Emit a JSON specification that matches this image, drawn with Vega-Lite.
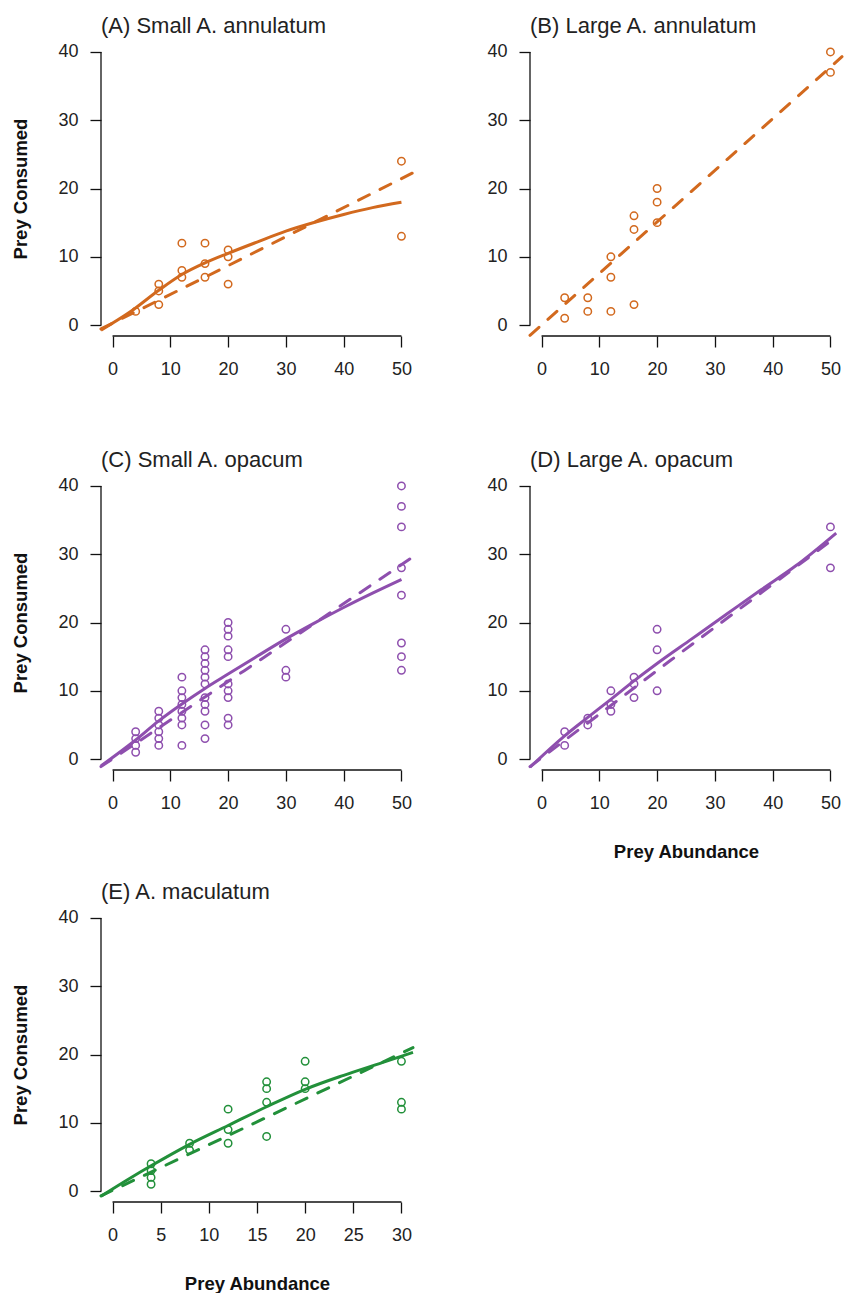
{
  "$schema": "https://vega.github.io/schema/vega-lite/v6.json",
  "background": "white",
  "padding": {"left": 11, "top": 15, "right": 0, "bottom": 0},
  "datasets": {
    "A": [
      {"kind": "obs", "abundance": 4, "consumed": 2},
      {"kind": "obs", "abundance": 8, "consumed": 6},
      {"kind": "obs", "abundance": 8, "consumed": 5},
      {"kind": "obs", "abundance": 8, "consumed": 3},
      {"kind": "obs", "abundance": 12, "consumed": 12},
      {"kind": "obs", "abundance": 12, "consumed": 8},
      {"kind": "obs", "abundance": 12, "consumed": 7},
      {"kind": "obs", "abundance": 16, "consumed": 12},
      {"kind": "obs", "abundance": 16, "consumed": 9},
      {"kind": "obs", "abundance": 16, "consumed": 7},
      {"kind": "obs", "abundance": 20, "consumed": 11},
      {"kind": "obs", "abundance": 20, "consumed": 10},
      {"kind": "obs", "abundance": 20, "consumed": 6},
      {"kind": "obs", "abundance": 50, "consumed": 24},
      {"kind": "obs", "abundance": 50, "consumed": 13},
      {"kind": "solid", "abundance": -2, "consumed": -0.75},
      {"kind": "solid", "abundance": 3, "consumed": 1.9},
      {"kind": "solid", "abundance": 8, "consumed": 5.1},
      {"kind": "solid", "abundance": 12, "consumed": 7.4},
      {"kind": "solid", "abundance": 16, "consumed": 9.1},
      {"kind": "solid", "abundance": 20, "consumed": 10.5},
      {"kind": "solid", "abundance": 25, "consumed": 12.15},
      {"kind": "solid", "abundance": 30, "consumed": 13.75},
      {"kind": "solid", "abundance": 35, "consumed": 15.05},
      {"kind": "solid", "abundance": 40, "consumed": 16.2},
      {"kind": "solid", "abundance": 45, "consumed": 17.2},
      {"kind": "solid", "abundance": 50, "consumed": 18.0},
      {"kind": "dashed", "abundance": -2, "consumed": -0.57},
      {"kind": "dashed", "abundance": 20, "consumed": 8.7},
      {"kind": "dashed", "abundance": 52, "consumed": 22.3}
    ],
    "B": [
      {"kind": "obs", "abundance": 4, "consumed": 4},
      {"kind": "obs", "abundance": 4, "consumed": 1},
      {"kind": "obs", "abundance": 8, "consumed": 4},
      {"kind": "obs", "abundance": 8, "consumed": 2},
      {"kind": "obs", "abundance": 12, "consumed": 10},
      {"kind": "obs", "abundance": 12, "consumed": 7},
      {"kind": "obs", "abundance": 12, "consumed": 2},
      {"kind": "obs", "abundance": 16, "consumed": 16},
      {"kind": "obs", "abundance": 16, "consumed": 14},
      {"kind": "obs", "abundance": 16, "consumed": 3},
      {"kind": "obs", "abundance": 20, "consumed": 20},
      {"kind": "obs", "abundance": 20, "consumed": 18},
      {"kind": "obs", "abundance": 20, "consumed": 15},
      {"kind": "obs", "abundance": 50, "consumed": 40},
      {"kind": "obs", "abundance": 50, "consumed": 37},
      {"kind": "dashed", "abundance": -2, "consumed": -1.5},
      {"kind": "dashed", "abundance": 20, "consumed": 15.1},
      {"kind": "dashed", "abundance": 52, "consumed": 39.3}
    ],
    "C": [
      {"kind": "obs", "abundance": 4, "consumed": 4},
      {"kind": "obs", "abundance": 4, "consumed": 3},
      {"kind": "obs", "abundance": 4, "consumed": 2},
      {"kind": "obs", "abundance": 4, "consumed": 1},
      {"kind": "obs", "abundance": 8, "consumed": 7},
      {"kind": "obs", "abundance": 8, "consumed": 6},
      {"kind": "obs", "abundance": 8, "consumed": 5},
      {"kind": "obs", "abundance": 8, "consumed": 4},
      {"kind": "obs", "abundance": 8, "consumed": 3},
      {"kind": "obs", "abundance": 8, "consumed": 2},
      {"kind": "obs", "abundance": 12, "consumed": 12},
      {"kind": "obs", "abundance": 12, "consumed": 10},
      {"kind": "obs", "abundance": 12, "consumed": 9},
      {"kind": "obs", "abundance": 12, "consumed": 8},
      {"kind": "obs", "abundance": 12, "consumed": 7},
      {"kind": "obs", "abundance": 12, "consumed": 6},
      {"kind": "obs", "abundance": 12, "consumed": 5},
      {"kind": "obs", "abundance": 12, "consumed": 2},
      {"kind": "obs", "abundance": 16, "consumed": 16},
      {"kind": "obs", "abundance": 16, "consumed": 15},
      {"kind": "obs", "abundance": 16, "consumed": 14},
      {"kind": "obs", "abundance": 16, "consumed": 13},
      {"kind": "obs", "abundance": 16, "consumed": 12},
      {"kind": "obs", "abundance": 16, "consumed": 11},
      {"kind": "obs", "abundance": 16, "consumed": 9},
      {"kind": "obs", "abundance": 16, "consumed": 8},
      {"kind": "obs", "abundance": 16, "consumed": 7},
      {"kind": "obs", "abundance": 16, "consumed": 5},
      {"kind": "obs", "abundance": 16, "consumed": 3},
      {"kind": "obs", "abundance": 20, "consumed": 20},
      {"kind": "obs", "abundance": 20, "consumed": 19},
      {"kind": "obs", "abundance": 20, "consumed": 18},
      {"kind": "obs", "abundance": 20, "consumed": 16},
      {"kind": "obs", "abundance": 20, "consumed": 15},
      {"kind": "obs", "abundance": 20, "consumed": 11},
      {"kind": "obs", "abundance": 20, "consumed": 10},
      {"kind": "obs", "abundance": 20, "consumed": 9},
      {"kind": "obs", "abundance": 20, "consumed": 6},
      {"kind": "obs", "abundance": 20, "consumed": 5},
      {"kind": "obs", "abundance": 30, "consumed": 19},
      {"kind": "obs", "abundance": 30, "consumed": 13},
      {"kind": "obs", "abundance": 30, "consumed": 12},
      {"kind": "obs", "abundance": 50, "consumed": 40},
      {"kind": "obs", "abundance": 50, "consumed": 37},
      {"kind": "obs", "abundance": 50, "consumed": 34},
      {"kind": "obs", "abundance": 50, "consumed": 28},
      {"kind": "obs", "abundance": 50, "consumed": 24},
      {"kind": "obs", "abundance": 50, "consumed": 17},
      {"kind": "obs", "abundance": 50, "consumed": 15},
      {"kind": "obs", "abundance": 50, "consumed": 13},
      {"kind": "solid", "abundance": -2, "consumed": -1.0},
      {"kind": "solid", "abundance": 4, "consumed": 2.8},
      {"kind": "solid", "abundance": 8, "consumed": 5.6},
      {"kind": "solid", "abundance": 12, "consumed": 8.07},
      {"kind": "solid", "abundance": 16, "consumed": 10.35},
      {"kind": "solid", "abundance": 20, "consumed": 12.45},
      {"kind": "solid", "abundance": 25, "consumed": 15.05},
      {"kind": "solid", "abundance": 30, "consumed": 17.6},
      {"kind": "solid", "abundance": 35, "consumed": 19.95},
      {"kind": "solid", "abundance": 40, "consumed": 22.2},
      {"kind": "solid", "abundance": 45, "consumed": 24.3},
      {"kind": "solid", "abundance": 50, "consumed": 26.3},
      {"kind": "dashed", "abundance": -2, "consumed": -1.1},
      {"kind": "dashed", "abundance": 22.8, "consumed": 12.95},
      {"kind": "dashed", "abundance": 52, "consumed": 29.6}
    ],
    "D": [
      {"kind": "obs", "abundance": 4, "consumed": 4},
      {"kind": "obs", "abundance": 4, "consumed": 2},
      {"kind": "obs", "abundance": 8, "consumed": 6},
      {"kind": "obs", "abundance": 8, "consumed": 5},
      {"kind": "obs", "abundance": 12, "consumed": 10},
      {"kind": "obs", "abundance": 12, "consumed": 8},
      {"kind": "obs", "abundance": 12, "consumed": 7},
      {"kind": "obs", "abundance": 16, "consumed": 12},
      {"kind": "obs", "abundance": 16, "consumed": 11},
      {"kind": "obs", "abundance": 16, "consumed": 9},
      {"kind": "obs", "abundance": 20, "consumed": 19},
      {"kind": "obs", "abundance": 20, "consumed": 16},
      {"kind": "obs", "abundance": 20, "consumed": 10},
      {"kind": "obs", "abundance": 50, "consumed": 34},
      {"kind": "obs", "abundance": 50, "consumed": 28},
      {"kind": "solid", "abundance": -2, "consumed": -1.2},
      {"kind": "solid", "abundance": 4, "consumed": 3.4},
      {"kind": "solid", "abundance": 8, "consumed": 6.1},
      {"kind": "solid", "abundance": 12, "consumed": 8.75},
      {"kind": "solid", "abundance": 16, "consumed": 11.45},
      {"kind": "solid", "abundance": 20, "consumed": 14.0},
      {"kind": "solid", "abundance": 26, "consumed": 17.6},
      {"kind": "solid", "abundance": 32, "consumed": 21.2},
      {"kind": "solid", "abundance": 38, "consumed": 24.8},
      {"kind": "solid", "abundance": 44, "consumed": 28.3},
      {"kind": "solid", "abundance": 51, "consumed": 33.1},
      {"kind": "dashed", "abundance": -2, "consumed": -1.1},
      {"kind": "dashed", "abundance": 22.4, "consumed": 14.5},
      {"kind": "dashed", "abundance": 50, "consumed": 31.9}
    ],
    "E": [
      {"kind": "obs", "abundance": 4, "consumed": 4},
      {"kind": "obs", "abundance": 4, "consumed": 3},
      {"kind": "obs", "abundance": 4, "consumed": 2},
      {"kind": "obs", "abundance": 4, "consumed": 1},
      {"kind": "obs", "abundance": 8, "consumed": 7},
      {"kind": "obs", "abundance": 8, "consumed": 6},
      {"kind": "obs", "abundance": 12, "consumed": 12},
      {"kind": "obs", "abundance": 12, "consumed": 9},
      {"kind": "obs", "abundance": 12, "consumed": 7},
      {"kind": "obs", "abundance": 16, "consumed": 16},
      {"kind": "obs", "abundance": 16, "consumed": 15},
      {"kind": "obs", "abundance": 16, "consumed": 13},
      {"kind": "obs", "abundance": 16, "consumed": 8},
      {"kind": "obs", "abundance": 20, "consumed": 19},
      {"kind": "obs", "abundance": 20, "consumed": 16},
      {"kind": "obs", "abundance": 20, "consumed": 15},
      {"kind": "obs", "abundance": 30, "consumed": 19},
      {"kind": "obs", "abundance": 30, "consumed": 13},
      {"kind": "obs", "abundance": 30, "consumed": 12},
      {"kind": "solid", "abundance": -1.2, "consumed": -0.75},
      {"kind": "solid", "abundance": 1.6, "consumed": 1.7},
      {"kind": "solid", "abundance": 4, "consumed": 3.7},
      {"kind": "solid", "abundance": 8, "consumed": 6.85},
      {"kind": "solid", "abundance": 12, "consumed": 9.6},
      {"kind": "solid", "abundance": 16, "consumed": 12.35},
      {"kind": "solid", "abundance": 20, "consumed": 14.9},
      {"kind": "solid", "abundance": 24, "consumed": 16.95},
      {"kind": "solid", "abundance": 28, "consumed": 18.8},
      {"kind": "solid", "abundance": 31.2, "consumed": 20.3},
      {"kind": "dashed", "abundance": -1.2, "consumed": -0.7},
      {"kind": "dashed", "abundance": 15.1, "consumed": 10.2},
      {"kind": "dashed", "abundance": 31.2, "consumed": 21.0}
    ]
  },
  "vconcat": [
    {
      "vconcat": [
        {
          "hconcat": [
            {
              "width": 312, "height": 295,
              "title": {"text": "(A) Small A. annulatum"},
              "layer": [
                {"data": {"name": "A"}, "transform": [{"filter": "datum.kind === 'obs'"}], "mark": {"type": "point", "shape": "circle", "filled": false, "size": 55, "strokeWidth": 1.5, "color": "#D2691E", "opacity": 1},
                 "encoding": {
                   "x": {"field": "abundance", "type": "quantitative", "scale": {"domain": [-2, 52], "nice": false, "zero": false}, "axis": {"values": [0, 10, 20, 30, 40, 50], "title": null}},
                   "y": {"field": "consumed", "type": "quantitative", "scale": {"domain": [-1.6, 41.6], "nice": false, "zero": false}, "axis": {"values": [0, 10, 20, 30, 40], "title": "Prey Consumed"}}}},
                {"data": {"name": "A"}, "transform": [{"filter": "datum.kind === 'solid'"}], "mark": {"type": "line", "interpolate": "monotone", "strokeWidth": 3, "color": "#D2691E"},
                 "encoding": {
                   "x": {"field": "abundance", "type": "quantitative", "scale": {"domain": [-2, 52], "nice": false, "zero": false}, "axis": {"values": [0, 10, 20, 30, 40, 50], "title": null}},
                   "y": {"field": "consumed", "type": "quantitative", "scale": {"domain": [-1.6, 41.6], "nice": false, "zero": false}, "axis": {"values": [0, 10, 20, 30, 40], "title": "Prey Consumed"}}}},
                {"data": {"name": "A"}, "transform": [{"filter": "datum.kind === 'dashed'"}], "mark": {"type": "line", "strokeWidth": 3, "strokeDash": [12, 12], "strokeCap": "round", "color": "#D2691E"},
                 "encoding": {
                   "x": {"field": "abundance", "type": "quantitative", "scale": {"domain": [-2, 52], "nice": false, "zero": false}, "axis": {"values": [0, 10, 20, 30, 40, 50], "title": null}},
                   "y": {"field": "consumed", "type": "quantitative", "scale": {"domain": [-1.6, 41.6], "nice": false, "zero": false}, "axis": {"values": [0, 10, 20, 30, 40], "title": "Prey Consumed"}}}},
                {"data": {"values": [{"axis": "x"}]}, "mark": {"type": "rule", "color": "#111", "strokeWidth": 1.3},
                 "encoding": {
                   "x": {"datum": 0, "type": "quantitative", "scale": {"domain": [-2, 52], "nice": false, "zero": false}, "axis": {"values": [0, 10, 20, 30, 40, 50], "title": null}},
                   "x2": {"datum": 50},
                   "y": {"datum": -1.6, "type": "quantitative", "scale": {"domain": [-1.6, 41.6], "nice": false, "zero": false}, "axis": {"values": [0, 10, 20, 30, 40], "title": "Prey Consumed"}}}},
                {"data": {"values": [{"axis": "y"}]}, "mark": {"type": "rule", "color": "#111", "strokeWidth": 1.3},
                 "encoding": {
                   "y": {"datum": 0, "type": "quantitative", "scale": {"domain": [-1.6, 41.6], "nice": false, "zero": false}, "axis": {"values": [0, 10, 20, 30, 40], "title": "Prey Consumed"}},
                   "y2": {"datum": 40},
                   "x": {"datum": -2, "type": "quantitative", "scale": {"domain": [-2, 52], "nice": false, "zero": false}, "axis": {"values": [0, 10, 20, 30, 40, 50], "title": null}}}}
              ]
            },
            {
              "width": 312, "height": 295,
              "title": {"text": "(B) Large A. annulatum"},
              "layer": [
                {"data": {"name": "B"}, "transform": [{"filter": "datum.kind === 'obs'"}], "mark": {"type": "point", "shape": "circle", "filled": false, "size": 55, "strokeWidth": 1.5, "color": "#D2691E", "opacity": 1},
                 "encoding": {
                   "x": {"field": "abundance", "type": "quantitative", "scale": {"domain": [-2, 52], "nice": false, "zero": false}, "axis": {"values": [0, 10, 20, 30, 40, 50], "title": null}},
                   "y": {"field": "consumed", "type": "quantitative", "scale": {"domain": [-1.6, 41.6], "nice": false, "zero": false}, "axis": {"values": [0, 10, 20, 30, 40], "title": null}}}},
                {"data": {"name": "B"}, "transform": [{"filter": "datum.kind === 'dashed'"}], "mark": {"type": "line", "strokeWidth": 3, "strokeDash": [12, 12], "strokeCap": "round", "color": "#D2691E"},
                 "encoding": {
                   "x": {"field": "abundance", "type": "quantitative", "scale": {"domain": [-2, 52], "nice": false, "zero": false}, "axis": {"values": [0, 10, 20, 30, 40, 50], "title": null}},
                   "y": {"field": "consumed", "type": "quantitative", "scale": {"domain": [-1.6, 41.6], "nice": false, "zero": false}, "axis": {"values": [0, 10, 20, 30, 40], "title": null}}}},
                {"data": {"values": [{"axis": "x"}]}, "mark": {"type": "rule", "color": "#111", "strokeWidth": 1.3},
                 "encoding": {
                   "x": {"datum": 0, "type": "quantitative", "scale": {"domain": [-2, 52], "nice": false, "zero": false}, "axis": {"values": [0, 10, 20, 30, 40, 50], "title": null}},
                   "x2": {"datum": 50},
                   "y": {"datum": -1.6, "type": "quantitative", "scale": {"domain": [-1.6, 41.6], "nice": false, "zero": false}, "axis": {"values": [0, 10, 20, 30, 40], "title": null}}}},
                {"data": {"values": [{"axis": "y"}]}, "mark": {"type": "rule", "color": "#111", "strokeWidth": 1.3},
                 "encoding": {
                   "y": {"datum": 0, "type": "quantitative", "scale": {"domain": [-1.6, 41.6], "nice": false, "zero": false}, "axis": {"values": [0, 10, 20, 30, 40], "title": null}},
                   "y2": {"datum": 40},
                   "x": {"datum": -2, "type": "quantitative", "scale": {"domain": [-2, 52], "nice": false, "zero": false}, "axis": {"values": [0, 10, 20, 30, 40, 50], "title": null}}}}
              ]
            }
          ],
          "spacing": 67
        },
        {
          "hconcat": [
            {
              "width": 312, "height": 295,
              "title": {"text": "(C) Small A. opacum"},
              "layer": [
                {"data": {"name": "C"}, "transform": [{"filter": "datum.kind === 'obs'"}], "mark": {"type": "point", "shape": "circle", "filled": false, "size": 55, "strokeWidth": 1.5, "color": "#8E4FAE", "opacity": 1},
                 "encoding": {
                   "x": {"field": "abundance", "type": "quantitative", "scale": {"domain": [-2, 52], "nice": false, "zero": false}, "axis": {"values": [0, 10, 20, 30, 40, 50], "title": null}},
                   "y": {"field": "consumed", "type": "quantitative", "scale": {"domain": [-1.6, 41.6], "nice": false, "zero": false}, "axis": {"values": [0, 10, 20, 30, 40], "title": "Prey Consumed"}}}},
                {"data": {"name": "C"}, "transform": [{"filter": "datum.kind === 'solid'"}], "mark": {"type": "line", "interpolate": "monotone", "strokeWidth": 3, "color": "#8E4FAE"},
                 "encoding": {
                   "x": {"field": "abundance", "type": "quantitative", "scale": {"domain": [-2, 52], "nice": false, "zero": false}, "axis": {"values": [0, 10, 20, 30, 40, 50], "title": null}},
                   "y": {"field": "consumed", "type": "quantitative", "scale": {"domain": [-1.6, 41.6], "nice": false, "zero": false}, "axis": {"values": [0, 10, 20, 30, 40], "title": "Prey Consumed"}}}},
                {"data": {"name": "C"}, "transform": [{"filter": "datum.kind === 'dashed'"}], "mark": {"type": "line", "strokeWidth": 3, "strokeDash": [12, 12], "strokeCap": "round", "color": "#8E4FAE"},
                 "encoding": {
                   "x": {"field": "abundance", "type": "quantitative", "scale": {"domain": [-2, 52], "nice": false, "zero": false}, "axis": {"values": [0, 10, 20, 30, 40, 50], "title": null}},
                   "y": {"field": "consumed", "type": "quantitative", "scale": {"domain": [-1.6, 41.6], "nice": false, "zero": false}, "axis": {"values": [0, 10, 20, 30, 40], "title": "Prey Consumed"}}}},
                {"data": {"values": [{"axis": "x"}]}, "mark": {"type": "rule", "color": "#111", "strokeWidth": 1.3},
                 "encoding": {
                   "x": {"datum": 0, "type": "quantitative", "scale": {"domain": [-2, 52], "nice": false, "zero": false}, "axis": {"values": [0, 10, 20, 30, 40, 50], "title": null}},
                   "x2": {"datum": 50},
                   "y": {"datum": -1.6, "type": "quantitative", "scale": {"domain": [-1.6, 41.6], "nice": false, "zero": false}, "axis": {"values": [0, 10, 20, 30, 40], "title": "Prey Consumed"}}}},
                {"data": {"values": [{"axis": "y"}]}, "mark": {"type": "rule", "color": "#111", "strokeWidth": 1.3},
                 "encoding": {
                   "y": {"datum": 0, "type": "quantitative", "scale": {"domain": [-1.6, 41.6], "nice": false, "zero": false}, "axis": {"values": [0, 10, 20, 30, 40], "title": "Prey Consumed"}},
                   "y2": {"datum": 40},
                   "x": {"datum": -2, "type": "quantitative", "scale": {"domain": [-2, 52], "nice": false, "zero": false}, "axis": {"values": [0, 10, 20, 30, 40, 50], "title": null}}}}
              ]
            },
            {
              "width": 312, "height": 295,
              "title": {"text": "(D) Large A. opacum"},
              "layer": [
                {"data": {"name": "D"}, "transform": [{"filter": "datum.kind === 'obs'"}], "mark": {"type": "point", "shape": "circle", "filled": false, "size": 55, "strokeWidth": 1.5, "color": "#8E4FAE", "opacity": 1},
                 "encoding": {
                   "x": {"field": "abundance", "type": "quantitative", "scale": {"domain": [-2, 52], "nice": false, "zero": false}, "axis": {"values": [0, 10, 20, 30, 40, 50], "title": "Prey Abundance"}},
                   "y": {"field": "consumed", "type": "quantitative", "scale": {"domain": [-1.6, 41.6], "nice": false, "zero": false}, "axis": {"values": [0, 10, 20, 30, 40], "title": null}}}},
                {"data": {"name": "D"}, "transform": [{"filter": "datum.kind === 'solid'"}], "mark": {"type": "line", "interpolate": "monotone", "strokeWidth": 3, "color": "#8E4FAE"},
                 "encoding": {
                   "x": {"field": "abundance", "type": "quantitative", "scale": {"domain": [-2, 52], "nice": false, "zero": false}, "axis": {"values": [0, 10, 20, 30, 40, 50], "title": "Prey Abundance"}},
                   "y": {"field": "consumed", "type": "quantitative", "scale": {"domain": [-1.6, 41.6], "nice": false, "zero": false}, "axis": {"values": [0, 10, 20, 30, 40], "title": null}}}},
                {"data": {"name": "D"}, "transform": [{"filter": "datum.kind === 'dashed'"}], "mark": {"type": "line", "strokeWidth": 3, "strokeDash": [12, 12], "strokeCap": "round", "color": "#8E4FAE"},
                 "encoding": {
                   "x": {"field": "abundance", "type": "quantitative", "scale": {"domain": [-2, 52], "nice": false, "zero": false}, "axis": {"values": [0, 10, 20, 30, 40, 50], "title": "Prey Abundance"}},
                   "y": {"field": "consumed", "type": "quantitative", "scale": {"domain": [-1.6, 41.6], "nice": false, "zero": false}, "axis": {"values": [0, 10, 20, 30, 40], "title": null}}}},
                {"data": {"values": [{"axis": "x"}]}, "mark": {"type": "rule", "color": "#111", "strokeWidth": 1.3},
                 "encoding": {
                   "x": {"datum": 0, "type": "quantitative", "scale": {"domain": [-2, 52], "nice": false, "zero": false}, "axis": {"values": [0, 10, 20, 30, 40, 50], "title": "Prey Abundance"}},
                   "x2": {"datum": 50},
                   "y": {"datum": -1.6, "type": "quantitative", "scale": {"domain": [-1.6, 41.6], "nice": false, "zero": false}, "axis": {"values": [0, 10, 20, 30, 40], "title": null}}}},
                {"data": {"values": [{"axis": "y"}]}, "mark": {"type": "rule", "color": "#111", "strokeWidth": 1.3},
                 "encoding": {
                   "y": {"datum": 0, "type": "quantitative", "scale": {"domain": [-1.6, 41.6], "nice": false, "zero": false}, "axis": {"values": [0, 10, 20, 30, 40], "title": null}},
                   "y2": {"datum": 40},
                   "x": {"datum": -2, "type": "quantitative", "scale": {"domain": [-2, 52], "nice": false, "zero": false}, "axis": {"values": [0, 10, 20, 30, 40, 50], "title": "Prey Abundance"}}}}
              ]
            }
          ],
          "spacing": 67
        }
      ],
      "spacing": 71
    },
    {
      "width": 312, "height": 295,
      "title": {"text": "(E) A. maculatum"},
      "layer": [
        {"data": {"name": "E"}, "transform": [{"filter": "datum.kind === 'obs'"}], "mark": {"type": "point", "shape": "circle", "filled": false, "size": 55, "strokeWidth": 1.5, "color": "#22903A", "opacity": 1},
         "encoding": {
           "x": {"field": "abundance", "type": "quantitative", "scale": {"domain": [-1.2, 31.2], "nice": false, "zero": false}, "axis": {"values": [0, 5, 10, 15, 20, 25, 30], "title": "Prey Abundance"}},
           "y": {"field": "consumed", "type": "quantitative", "scale": {"domain": [-1.6, 41.6], "nice": false, "zero": false}, "axis": {"values": [0, 10, 20, 30, 40], "title": "Prey Consumed"}}}},
        {"data": {"name": "E"}, "transform": [{"filter": "datum.kind === 'solid'"}], "mark": {"type": "line", "interpolate": "monotone", "strokeWidth": 3, "color": "#22903A"},
         "encoding": {
           "x": {"field": "abundance", "type": "quantitative", "scale": {"domain": [-1.2, 31.2], "nice": false, "zero": false}, "axis": {"values": [0, 5, 10, 15, 20, 25, 30], "title": "Prey Abundance"}},
           "y": {"field": "consumed", "type": "quantitative", "scale": {"domain": [-1.6, 41.6], "nice": false, "zero": false}, "axis": {"values": [0, 10, 20, 30, 40], "title": "Prey Consumed"}}}},
        {"data": {"name": "E"}, "transform": [{"filter": "datum.kind === 'dashed'"}], "mark": {"type": "line", "strokeWidth": 3, "strokeDash": [12, 12], "strokeCap": "round", "color": "#22903A"},
         "encoding": {
           "x": {"field": "abundance", "type": "quantitative", "scale": {"domain": [-1.2, 31.2], "nice": false, "zero": false}, "axis": {"values": [0, 5, 10, 15, 20, 25, 30], "title": "Prey Abundance"}},
           "y": {"field": "consumed", "type": "quantitative", "scale": {"domain": [-1.6, 41.6], "nice": false, "zero": false}, "axis": {"values": [0, 10, 20, 30, 40], "title": "Prey Consumed"}}}},
        {"data": {"values": [{"axis": "x"}]}, "mark": {"type": "rule", "color": "#111", "strokeWidth": 1.3},
         "encoding": {
           "x": {"datum": 0, "type": "quantitative", "scale": {"domain": [-1.2, 31.2], "nice": false, "zero": false}, "axis": {"values": [0, 5, 10, 15, 20, 25, 30], "title": "Prey Abundance"}},
           "x2": {"datum": 30},
           "y": {"datum": -1.6, "type": "quantitative", "scale": {"domain": [-1.6, 41.6], "nice": false, "zero": false}, "axis": {"values": [0, 10, 20, 30, 40], "title": "Prey Consumed"}}}},
        {"data": {"values": [{"axis": "y"}]}, "mark": {"type": "rule", "color": "#111", "strokeWidth": 1.3},
         "encoding": {
           "y": {"datum": 0, "type": "quantitative", "scale": {"domain": [-1.6, 41.6], "nice": false, "zero": false}, "axis": {"values": [0, 10, 20, 30, 40], "title": "Prey Consumed"}},
           "y2": {"datum": 40},
           "x": {"datum": -1.2, "type": "quantitative", "scale": {"domain": [-1.2, 31.2], "nice": false, "zero": false}, "axis": {"values": [0, 5, 10, 15, 20, 25, 30], "title": "Prey Abundance"}}}}
      ]
    }
  ],
  "spacing": 20,
  "config": {
    "font": "Liberation Sans",
    "view": {"stroke": null},
    "title": {"anchor": "start", "frame": "group", "fontSize": 22, "fontWeight": "normal", "font": "Liberation Sans", "color": "#222", "offset": 3, "baseline": "alphabetic"},
    "axis": {
      "domain": false, "grid": false, "ticks": true, "tickSize": 11, "tickWidth": 1.3, "tickColor": "#111",
      "labelFont": "Liberation Sans", "labelFontSize": 18, "labelColor": "#222", "labelPadding": 12, "labelFlush": false, "labelOverlap": false,
      "titleFont": "Liberation Sans", "titleFontSize": 18.5, "titleFontWeight": "bold", "titleColor": "#111"
    },
    "axisX": {"titlePadding": 30, "labelPadding": 13},
    "axisY": {"titlePadding": 27}
  }
}
